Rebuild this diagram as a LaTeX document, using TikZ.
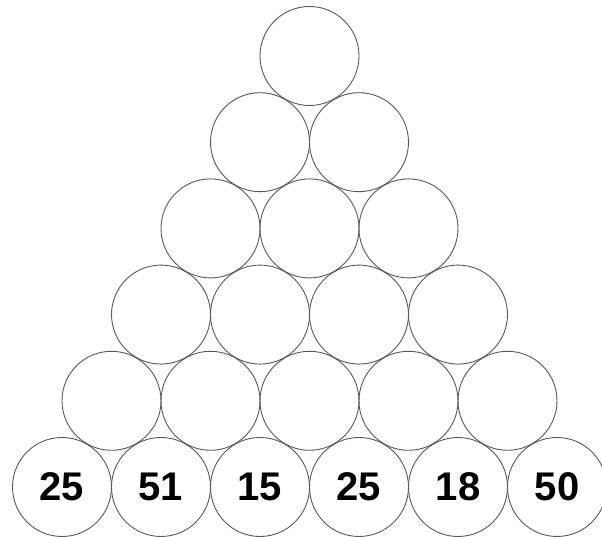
\documentclass[tikz,border=0pt]{standalone}
\usepackage{fontspec}
\setmainfont{Liberation Sans}
\begin{document}
\begin{tikzpicture}[x=1pt,y=1pt,
  ball/.style={circle,draw=black!65,line width=0.9pt,minimum size=99pt,inner sep=0pt,
    font=\fontsize{40}{40}\selectfont\bfseries}]
\useasboundingbox (0,0) rectangle (602,537);
% rows from top (r=1) to bottom (r=6)
\foreach \r in {1,...,6}{
  \pgfmathsetmacro{\yy}{537-(56+86.2*(\r-1))}
  \foreach \i in {1,...,\r}{
    \pgfmathsetmacro{\xx}{309.5+(\i-1-(\r-1)/2)*99}
    \node[ball] (c-\r-\i) at (\xx,\yy) {};
  }
}
\node at (c-6-1) {\fontsize{40}{40}\selectfont\bfseries 25};
\node at (c-6-2) {\fontsize{40}{40}\selectfont\bfseries 51};
\node at (c-6-3) {\fontsize{40}{40}\selectfont\bfseries 15};
\node at (c-6-4) {\fontsize{40}{40}\selectfont\bfseries 25};
\node at (c-6-5) {\fontsize{40}{40}\selectfont\bfseries 18};
\node at (c-6-6) {\fontsize{40}{40}\selectfont\bfseries 50};
\end{tikzpicture}
\end{document}
